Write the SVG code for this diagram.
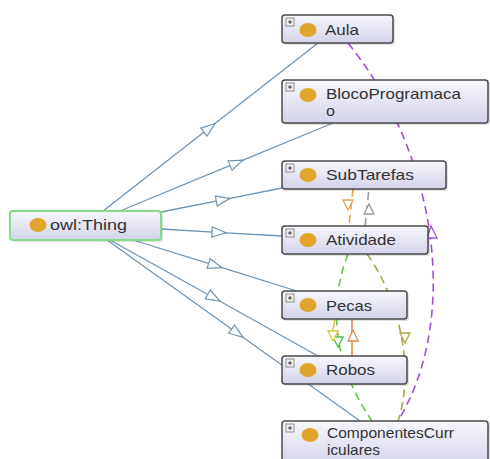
<svg xmlns="http://www.w3.org/2000/svg" width="490" height="459" viewBox="0 0 490 459">
<defs>
<linearGradient id="g" x1="0" y1="0" x2="0" y2="1">
<stop offset="0" stop-color="#f7f7fc"/>
<stop offset="1" stop-color="#d3d3ea"/>
</linearGradient>
<marker id="tri" viewBox="0 0 16 12" refX="15" refY="6" markerWidth="16" markerHeight="12" markerUnits="userSpaceOnUse" orient="auto">
<path d="M1,1 L15,6 L1,11 Z" fill="#fff" stroke="#6f95b4" stroke-width="1.2"/>
</marker>
</defs>
<style>
.box{fill:url(#g);stroke:#4a4a4a;stroke-width:1.5}
.sh{fill:#000;opacity:0.12}
.lbl{font-family:"Liberation Sans",Arial,sans-serif;font-size:14.5px;fill:#333}
.dot{fill:#e0a52a}
.pb{fill:#f2f2f2;stroke:#777;stroke-width:0.8}
.pl{stroke:#333;stroke-width:0.9}
.isa{fill:none;stroke:#6f95b4;stroke-width:1.3;marker-mid:url(#tri)}
.d{fill:none;stroke-width:1.6;stroke-dasharray:8 5}
.h{fill:#fff;stroke-width:1.3}
</style>
<g id="connectors">
<path class="isa" d="M103,211 L215,123.5 L318,43"/>
<path class="isa" d="M120,211 L243,160.2 L333,123"/>
<path class="isa" d="M161,212 L230,198.3 L282,188"/>
<path class="isa" d="M161,229 L226,232.8 L282,236"/>
<path class="isa" d="M133,240 L222,267.7 L300,292"/>
<path class="isa" d="M110,240 L220,301.2 L318,356"/>
<path class="isa" d="M107,240 L243,337.3 L360,421"/>
<path class="d" stroke="#a24fd8" d="M348,43 C435,150 462,315 398,421"/>
<path class="h" stroke="#a24fd8" d="M431,226 L437,238 L427,238 Z"/>
<path class="d" stroke="#e2a850" d="M353,189 L349,226"/>
<path class="h" stroke="#e2a850" d="M348,210 L343,200 L353,200 Z"/>
<path class="d" stroke="#9a9a9a" d="M365,226 L369,189"/>
<path class="h" stroke="#9a9a9a" d="M369,204 L374,214 L364,214 Z"/>
<path class="d" stroke="#6cc64a" d="M348,254 C330,300 330,360 372,421"/>
<path class="h" stroke="#4cc04a" d="M338,347 L333,337 L343,337 Z"/>
<path fill="none" stroke="#d8d040" stroke-width="1.6" d="M335,319 L332,334"/>
<path class="h" stroke="#d8d040" d="M333,341 L328,331 L338,331 Z"/>
<path fill="none" stroke="#e08a48" stroke-width="1.6" d="M352,319 L352,356"/>
<path class="h" stroke="#e08a48" d="M353,330 L358,341 L348,341 Z"/>
<path class="d" stroke="#aaa848" d="M367,254 C400,300 415,370 398,421"/>
<path class="h" stroke="#aaa848" d="M405,343 L400,333 L410,333 Z"/>
</g>
<g id="owlThing">
<rect class="sh" x="12" y="213" width="151" height="29" rx="3"/>
<rect x="10" y="211" width="151" height="29" rx="3" fill="url(#g)" stroke="#86dc86" stroke-width="2"/>
<ellipse class="dot" cx="38" cy="225" rx="8.5" ry="7"/>
<text class="lbl" x="50" y="230" textLength="77" lengthAdjust="spacingAndGlyphs">owl:Thing</text>
</g>
<g id="Aula">
<rect class="sh" x="284" y="17" width="111" height="28" rx="3"/>
<rect class="box" x="282" y="15" width="111" height="28" rx="3"/>
<rect class="pb" x="286" y="18" width="8" height="8"/><path class="pl" d="M288,22 H292 M290,20 V24"/>
<ellipse class="dot" cx="308" cy="30" rx="8.5" ry="7"/>
<text class="lbl" x="325" y="35" textLength="34" lengthAdjust="spacingAndGlyphs">Aula</text>
</g>
<g id="BlocoProgramacao">
<rect class="sh" x="284" y="82" width="206" height="43" rx="3"/>
<rect class="box" x="282" y="80" width="206" height="43" rx="3"/>
<rect class="pb" x="286" y="83" width="8" height="8"/><path class="pl" d="M288,87 H292 M290,85 V89"/>
<ellipse class="dot" cx="308" cy="95" rx="8.5" ry="7"/>
<text class="lbl" x="326" y="99" textLength="135" lengthAdjust="spacingAndGlyphs">BlocoProgramaca</text>
<text class="lbl" x="326" y="116" textLength="9" lengthAdjust="spacingAndGlyphs">o</text>
</g>
<g id="SubTarefas">
<rect class="sh" x="284" y="163" width="164" height="28" rx="3"/>
<rect class="box" x="282" y="161" width="164" height="28" rx="3"/>
<rect class="pb" x="286" y="164" width="8" height="8"/><path class="pl" d="M288,168 H292 M290,166 V170"/>
<ellipse class="dot" cx="308" cy="175" rx="8.5" ry="7"/>
<text class="lbl" x="326" y="180" textLength="88" lengthAdjust="spacingAndGlyphs">SubTarefas</text>
</g>
<g id="Atividade">
<rect class="sh" x="284" y="228" width="146" height="28" rx="3"/>
<rect class="box" x="282" y="226" width="146" height="28" rx="3"/>
<rect class="pb" x="286" y="229" width="8" height="8"/><path class="pl" d="M288,233 H292 M290,231 V235"/>
<ellipse class="dot" cx="308" cy="240" rx="8.5" ry="7"/>
<text class="lbl" x="326" y="245" textLength="70" lengthAdjust="spacingAndGlyphs">Atividade</text>
</g>
<g id="Pecas">
<rect class="sh" x="284" y="293" width="125" height="28" rx="3"/>
<rect class="box" x="282" y="291" width="125" height="28" rx="3"/>
<rect class="pb" x="286" y="294" width="8" height="8"/><path class="pl" d="M288,298 H292 M290,296 V300"/>
<ellipse class="dot" cx="308" cy="305" rx="8.5" ry="7"/>
<text class="lbl" x="326" y="311" textLength="46" lengthAdjust="spacingAndGlyphs">Pecas</text>
</g>
<g id="Robos">
<rect class="sh" x="284" y="358" width="125" height="28" rx="3"/>
<rect class="box" x="282" y="356" width="125" height="28" rx="3"/>
<rect class="pb" x="286" y="359" width="8" height="8"/><path class="pl" d="M288,363 H292 M290,361 V365"/>
<ellipse class="dot" cx="308" cy="370" rx="8.5" ry="7"/>
<text class="lbl" x="326" y="375" textLength="49" lengthAdjust="spacingAndGlyphs">Robos</text>
</g>
<g id="ComponentesCurriculares">
<rect class="sh" x="284" y="423" width="206" height="45" rx="3"/>
<rect class="box" x="282" y="421" width="206" height="45" rx="3"/>
<rect class="pb" x="286" y="424" width="8" height="8"/><path class="pl" d="M288,428 H292 M290,426 V430"/>
<ellipse class="dot" cx="310" cy="435" rx="8.5" ry="7"/>
<text class="lbl" x="327" y="438" textLength="127" lengthAdjust="spacingAndGlyphs">ComponentesCurr</text>
<text class="lbl" x="327" y="455" textLength="53" lengthAdjust="spacingAndGlyphs">iculares</text>
</g>
</svg>
